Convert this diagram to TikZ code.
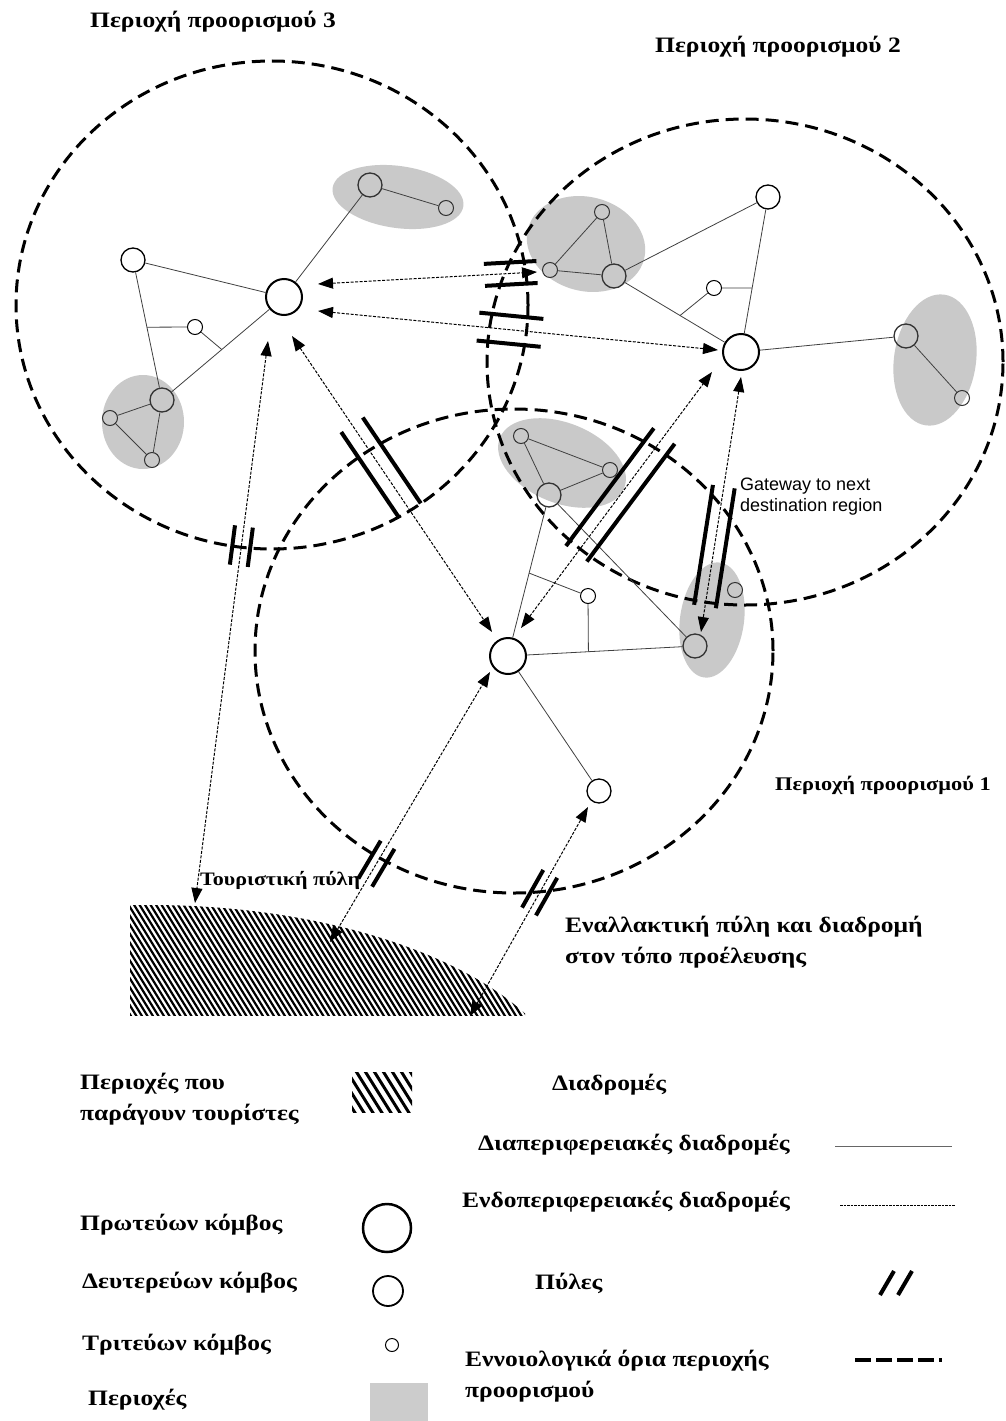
\documentclass[tikz,border=0pt]{standalone}
\usepackage{fontspec}
\setmainfont{Liberation Serif}[FakeStretch=1.16]
\newfontfamily\arialf{Liberation Sans}
\usetikzlibrary{arrows.meta,calc}
\newcommand{\gatepair}[5]{%
  \draw[gatebar] ($(#1)!#3!(#2)!#5!90:(#2)$) -- ($(#1)!#4!(#2)!#5!90:(#2)$);
  \draw[gatebar] ($(#1)!#3!(#2)!#5!-90:(#2)$) -- ($(#1)!#4!(#2)!#5!-90:(#2)$);}
\begin{document}
\begin{tikzpicture}[x=1pt,y=-1pt,
  bound/.style={line width=3pt, dash pattern=on 13pt off 7pt},
  thinl/.style={line width=0.8pt, draw=black!75},
  route/.style={line width=1pt, dash pattern=on 3pt off 1.5pt,
     {Triangle[length=15pt,width=11pt]}-{Triangle[length=15pt,width=11pt]}},
  gatebar/.style={line width=4pt},
  prim/.style={circle, draw, line width=2pt, minimum size=36pt, inner sep=0pt, fill=white},
  sec/.style={circle, draw, line width=1.3pt, minimum size=24pt, inner sep=0pt, fill=white},
  ter/.style={circle, draw, line width=1pt, minimum size=15pt, inner sep=0pt, fill=white},
  secg/.style={sec, fill=none, draw=black!80},
  terg/.style={ter, fill=none, draw=black!80},
  blob/.style={fill=gray!42},
  ttl/.style={font=\bfseries\fontsize{22}{26}\selectfont, anchor=west, inner sep=0pt},
  lgd/.style={font=\bfseries\fontsize{22}{31}\selectfont, anchor=west, inner sep=0pt, align=left},
]
\useasboundingbox (0,0) rectangle (1006,1421);
\fill[white] (0,0) rectangle (1006,1421);

% ---- grey regions
\fill[blob, rotate around={-8:(398,197)}] (398,197) ellipse [x radius=66pt, y radius=31pt];
\fill[blob] (143,422) ellipse [x radius=41pt, y radius=47pt];
\fill[blob, rotate around={-15:(586,244)}] (586,244) ellipse [x radius=60pt, y radius=47pt];
\fill[blob, rotate around={-8:(935,360)}] (935,360) ellipse [x radius=41pt, y radius=66pt];
\fill[blob, rotate around={-22:(562,463)}] (562,463) ellipse [x radius=67pt, y radius=40pt];
\fill[blob, rotate around={-8:(712,620)}] (712,620) ellipse [x radius=32pt, y radius=58pt];

% ---- tourist generating area (hatched)
\begin{scope}
  \clip (130,905) rectangle (525,1015);
  \clip (150,1110) ellipse [x radius=425pt, y radius=205pt];
  \foreach \i in {40,45.5,...,540} \draw[line width=2.2pt] (\i,895) -- (\i+80,1025);
\end{scope}

% ---- destination region boundaries
\draw[bound] (272,305) ellipse [x radius=256pt, y radius=244pt];
\draw[bound] (745,362) ellipse [x radius=258pt, y radius=243pt];
\draw[bound] (514,651) ellipse [x radius=259pt, y radius=242pt];

% ---- nodes region 3
\node[prim] (P3) at (284,297) {};
\node[sec]  (s3w) at (133,260) {};
\node[ter]  (t3c) at (195,327) {};
\node[secg] (s3t) at (370,185) {};
\node[terg] (t3t) at (446,208) {};
\node[secg] (s3b) at (162,400) {};
\node[terg] (t3l) at (110,418) {};
\node[terg] (t3b) at (152,460) {};
% ---- nodes region 2
\node[prim] (P2) at (741,352) {};
\node[sec]  (s2w) at (768,197) {};
\node[ter]  (t2c) at (714,288) {};
\node[terg] (t2b) at (602,212) {};
\node[terg] (t2a) at (550,270) {};
\node[secg] (s2b) at (614,276) {};
\node[secg] (s2r) at (906,336) {};
\node[terg] (t2r) at (962,398) {};
% ---- nodes region 1
\node[prim] (P1) at (508,656) {};
\node[sec]  (s1c) at (599,791) {};
\node[ter]  (t1c) at (588,596) {};
\node[terg] (t1d) at (735,590) {};
\node[secg] (s1a) at (549,495) {};
\node[terg] (t1a) at (521,436) {};
\node[terg] (t1b) at (610,470) {};
\node[secg] (s1b) at (695,646) {};

% ---- inter-regional (thin) links
\draw[thinl] (P3) -- (s3t);
\draw[thinl] (s3t) -- (t3t);
\draw[thinl] (P3) -- (s3w);
\draw[thinl] (s3w) -- (s3b);
\draw[thinl] (P3) -- (s3b);
\draw[thinl] (s3b) -- (t3l);
\draw[thinl] (t3l) -- (t3b);
\draw[thinl] (s3b) -- (t3b);
\draw[thinl] (t3c) -- ($(s3w)!0.48!(s3b)$);
\draw[thinl] (t3c) -- ($(P3)!0.51!(s3b)$);

\draw[thinl] (s2b) -- (t2a);
\draw[thinl] (t2a) -- (t2b);
\draw[thinl] (t2b) -- (s2b);
\draw[thinl] (s2b) -- (s2w);
\draw[thinl] (s2w) -- (P2);
\draw[thinl] (s2b) -- (P2);
\draw[thinl] (P2) -- (s2r);
\draw[thinl] (s2r) -- (t2r);
\draw[thinl] (t2c) -- ($(s2w)!0.587!(P2)$);
\draw[thinl] (t2c) -- ($(s2b)!0.52!(P2)$);

\draw[thinl] (t1a) -- (t1b);
\draw[thinl] (t1b) -- (s1a);
\draw[thinl] (t1a) -- (s1a);
\draw[thinl] (s1a) -- (P1);
\draw[thinl] (s1a) -- (s1b);
\draw[thinl] (P1) -- (s1b);
\draw[thinl] (P1) -- (s1c);
\draw[thinl] (t1c) -- ($(P1)!0.43!(s1b)$);
\draw[thinl] (t1c) -- ($(P1)!0.515!(s1a)$);

% ---- route end points
\coordinate (r1a) at (318,284);  \coordinate (r1b) at (537,272);
\coordinate (r2a) at (318,311);  \coordinate (r2b) at (718,350);
\coordinate (r3a) at (292,336);  \coordinate (r3b) at (492,632);
\coordinate (r4a) at (268,341);  \coordinate (r4b) at (195,903);
\coordinate (r5a) at (521,628);  \coordinate (r5b) at (712,372);
\coordinate (r6a) at (741,377);  \coordinate (r6b) at (701,632);
\coordinate (r7a) at (330,942);  \coordinate (r7b) at (490,672);
\coordinate (r8a) at (470,1016); \coordinate (r8b) at (588,807);

% ---- intra-regional routes (dashed)
\draw[route] (r1a) -- (r1b);
\draw[route] (r2a) -- (r2b);
\draw[route] (r3a) -- (r3b);
\draw[route] (r4a) -- (r4b);
\draw[route] (r5a) -- (r5b);
\draw[route] (r6a) -- (r6b);
\draw[route] (r7a) -- (r7b);
\draw[route] (r8a) -- (r8b);

% ---- gates
\gatepair{r1b}{r1a}{0}{0.24}{11pt}
\gatepair{r2a}{r2b}{0.40}{0.56}{14pt}
\gatepair{r3a}{r3b}{0.30}{0.59}{13pt}
\gatepair{r4a}{r4b}{0.33}{0.40}{9pt}
\gatepair{r5a}{r5b}{0.29}{0.75}{13pt}
\gatepair{r6a}{r6b}{0.43}{0.90}{11pt}
\gatepair{r7a}{r7b}{0.22}{0.36}{8pt}
\gatepair{r8a}{r8b}{0.50}{0.68}{8pt}

% ---- labels
\node[ttl] (l3) at (90,22) {Περιοχή προορισμού 3};
\node[ttl] (l2) at (655,47) {Περιοχή προορισμού 2};
\node[ttl, font=\bfseries\fontsize{19.3}{23}\selectfont] (l1) at (775,785) {Περιοχή προορισμού 1};
\node[font=\arialf\fontsize{18}{21}\selectfont, anchor=north west, inner sep=0pt, align=left]
  (gw) at (740,478) {Gateway to next\\destination region};
\node[font=\bfseries\fontsize{19}{22}\selectfont, anchor=west, inner sep=0pt] (tp) at (200,880) {Τουριστική πύλη};
\node[lgd, anchor=north west] (alt) at (565,916) {Εναλλακτική πύλη και διαδρομή\\στον τόπο προέλευσης};

% ---- legend
\node[lgd, anchor=north west] (lg1) at (80,1073) {Περιοχές που\\παράγουν τουρίστες};
\begin{scope}
  \clip (352,1072) rectangle (412,1112);
  \foreach \i in {300,309,...,420} \draw[line width=3pt] (\i,1068) -- (\i+30,1116);
\end{scope}
\node[lgd] (lg2) at (552,1085) {Διαδρομές};
\node[lgd] (lg3) at (478,1145) {Διαπεριφερειακές διαδρομές};
\coordinate (la1) at (835,1146); \coordinate (la2) at (952,1146);
\draw[line width=1pt, draw=black!60] (la1) -- (la2);
\node[lgd] (lg4) at (462,1202) {Ενδοπεριφερειακές διαδρομές};
\coordinate (lb1) at (840,1205); \coordinate (lb2) at (955,1205);
\draw[line width=1pt, dash pattern=on 2.5pt off 1pt] (lb1) -- (lb2);
\node[lgd] (lg5) at (80,1225) {Πρωτεύων κόμβος};
\node[circle, draw, line width=2.5pt, minimum size=48pt, inner sep=0pt] (lc1) at (387,1228) {};
\node[lgd] (lg6) at (82,1283) {Δευτερεύων κόμβος};
\node[circle, draw, line width=1.8pt, minimum size=30pt, inner sep=0pt] (lc2) at (388,1291) {};
\node[lgd] (lg7) at (82,1345) {Τριτεύων κόμβος};
\node[circle, draw, line width=1pt, minimum size=13pt, inner sep=0pt] (lc3) at (392,1345) {};
\node[lgd] (lg8) at (88,1400) {Περιοχές};
\fill[gray!40] (370,1383) rectangle (428,1421);
\node[lgd] (lg9) at (535,1283) {Πύλες};
\coordinate (lp1) at (880,1295); \coordinate (lp2) at (894,1271);
\coordinate (lp3) at (898,1295); \coordinate (lp4) at (912,1271);
\draw[line width=4pt] (lp1) -- (lp2);
\draw[line width=4pt] (lp3) -- (lp4);
\node[lgd, anchor=north west] (lg10) at (465,1350) {Εννοιολογικά όρια περιοχής\\προορισμού};
\coordinate (ld1) at (855,1360); \coordinate (ld2) at (942,1360);
\draw[line width=4.5pt, dash pattern=on 16pt off 5pt] (ld1) -- (ld2);
\end{tikzpicture}
\end{document}
